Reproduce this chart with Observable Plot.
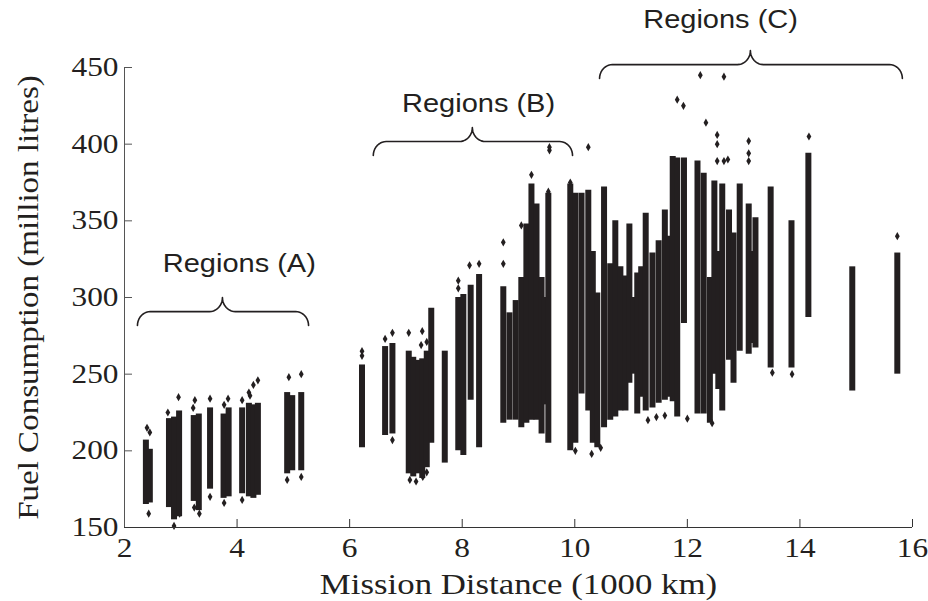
<!DOCTYPE html>
<html>
<head>
<meta charset="utf-8">
<script src="https://cdn.jsdelivr.net/npm/d3@7"></script>
<script src="https://cdn.jsdelivr.net/npm/@observablehq/plot@0.6"></script>
<style>
  html, body { margin: 0; padding: 0; background: #fff; }
</style>
</head>
<body>
<div id="chart"></div>
<script>
// Axis ticks
const xTicks = [2, 4, 6, 8, 10, 12, 14, 16];
const yTicks = [150, 200, 250, 300, 350, 400, 450];
const xTitle = "Mission Distance (1000 km)";
const yTitle = "Fuel Consumption (million litres)";

// Dense vertical bands of points: mission distance, lowest and highest fuel value
const bandX = [2.38, 2.45, 2.79, 2.88, 2.97, 3.23, 3.32, 3.52, 3.76, 3.85, 4.09, 4.21, 4.29, 4.37, 4.89, 4.98, 5.14,
  6.22, 6.63, 6.76, 7.05, 7.13, 7.22, 7.29, 7.37, 7.45, 7.69, 7.93, 8.02, 8.15, 8.30,
  8.73, 8.84, 8.95, 9.05, 9.14, 9.23, 9.32, 9.41, 9.47, 9.53,
  9.92, 10.01, 10.12, 10.24, 10.32, 10.40, 10.52, 10.63, 10.72, 10.81, 10.90, 10.97, 11.04, 11.11, 11.18, 11.26, 11.38, 11.49, 11.60, 11.67,
  11.74, 11.82, 11.94, 12.18, 12.29, 12.40, 12.48, 12.55, 12.62, 12.74, 12.82, 12.93, 13.09, 13.15, 13.21, 13.48, 13.85, 14.15, 14.93, 15.73];
const bandLow = [165, 166, 163, 155, 157, 167, 161, 175, 169, 170, 172, 170, 169, 171, 185, 187, 187,
  202, 210, 211, 185, 183, 185, 182, 189, 205, 192, 200, 197, 233, 202,
  218, 220, 220, 215, 218, 220, 220, 211, 230, 205,
  200, 205, 237, 226, 205, 202, 215, 220, 222, 226, 226, 244, 250, 224, 235, 226, 228, 231, 233, 235,
  232, 222, 283, 224, 224, 218, 250, 240, 226, 259, 244, 265, 263, 270, 267, 254, 254, 287, 239, 250];
const bandHigh = [207, 201, 221, 222, 226, 223, 224, 228, 224, 228, 228, 231, 230, 231, 238, 236, 238,
  256, 268, 270, 265, 261, 259, 260, 265, 293, 265, 300, 302, 308, 315,
  307, 290, 298, 313, 348, 374, 361, 313, 300, 368,
  374, 368, 368, 370, 330, 303, 372, 322, 350, 320, 314, 348, 300, 316, 320, 355, 329, 337, 357, 340,
  392, 391, 391, 389, 381, 313, 376, 330, 374, 357, 342, 374, 361, 330, 352, 372, 350, 394, 320, 329];

// Isolated points outside the dense bands
const outX = [2.40, 2.45, 2.43, 2.96, 2.77, 2.88, 2.98, 3.25, 3.22, 3.33, 3.24, 3.52, 3.52, 3.84, 3.77, 3.77, 4.09, 4.09,
  4.21, 4.29, 4.37, 4.23, 4.92, 4.89, 5.14, 5.14,
  6.22, 6.22, 6.63, 6.76, 6.76, 7.05, 7.29, 7.27, 7.37, 7.07, 7.18, 7.30, 7.37, 7.93, 7.93, 8.13, 8.30, 8.73, 8.73,
  9.05, 9.23, 9.55, 9.55, 9.53, 9.92, 10.01,
  10.24, 11.82, 11.93, 12.33, 12.53, 12.53, 12.53, 12.65, 12.72, 13.09, 13.09, 13.09, 12.23, 12.65, 14.16, 15.73,
  13.86, 13.51, 12.44, 12.00, 10.46, 10.30, 11.30, 11.45, 11.60];
const outY = [215, 212, 159, 235, 225, 151, 159, 233, 228, 159, 163, 234, 170, 234, 230, 166, 233, 168,
  238, 243, 246, 236, 248, 181, 250, 183,
  265, 262, 273, 277, 207, 277, 278, 269, 271, 181, 180, 183, 186, 311, 306, 321, 322, 336, 322,
  347, 380, 396, 398, 369, 375, 200,
  398, 429, 425, 414, 406, 400, 389, 389, 390, 402, 394, 389, 445, 444, 405, 340,
  250, 251, 218, 221, 202, 198, 220, 222, 223];

// Region annotations (braces)
const regionLabels = ["Regions (A)", "Regions (B)", "Regions (C)"];
const regionStart = [2.23, 6.42, 10.44];
const regionEnd = [5.27, 9.96, 15.82];
const regionTip = [3.74, 8.18, 13.12];
const regionBase = [281.7, 392.6, 442.8];
const labelX = [4.04, 8.29, 12.59];
const labelY = [322, 426.5, 480.7];

const ink = "#231f20";

const bands = bandX.map((x, i) => ({x, lo: bandLow[i], hi: bandHigh[i]}));
const outliers = outX.map((x, i) => ({x, y: outY[i]}));

// brace geometry (quarter arcs) built from the region arrays
const RX = 0.23, RY = 9.1, N = 10;
const bracePts = [];
regionLabels.forEach((lab, i) => {
  const x0 = regionStart[i], x1 = regionEnd[i], xt = regionTip[i], yb = regionBase[i];
  for (let k = 0; k <= N; k++) { const t = k / N * Math.PI / 2; bracePts.push({z: i, x: x0 + RX - RX * Math.cos(t), y: yb + RY * Math.sin(t)}); }
  for (let k = 0; k <= N; k++) { const t = k / N * Math.PI / 2; bracePts.push({z: i, x: xt - RX + RX * Math.sin(t), y: yb + 2 * RY - RY * Math.cos(t)}); }
  for (let k = 0; k <= N; k++) { const t = k / N * Math.PI / 2; bracePts.push({z: i, x: xt + RX - RX * Math.cos(t), y: yb + 2 * RY - RY * Math.sin(t)}); }
  for (let k = 0; k <= N; k++) { const t = k / N * Math.PI / 2; bracePts.push({z: i, x: x1 - RX + RX * Math.sin(t), y: yb + RY * Math.cos(t)}); }
});

const tickLenY = 8 * 300 / 460;   // 8px expressed in y units
const tickLenX = 8 * 14 / 788;    // 8px expressed in x units

const chart = Plot.plot({
  width: 928,
  height: 601,
  marginLeft: 124,
  marginRight: 16,
  marginTop: 67,
  marginBottom: 74,
  x: {domain: [2, 16]},
  y: {domain: [150, 450]},
  style: {fontFamily: "'Liberation Serif', 'Times New Roman', serif", fontSize: "27px", color: ink, background: "#fff", overflow: "visible"},
  marks: [
    Plot.axisX({ticks: xTicks, tickSize: 0, tickPadding: 10, label: null, fontSize: 27}),
    Plot.axisY({ticks: yTicks, tickSize: 0, tickPadding: 6, label: null, fontSize: 27}),
    Plot.ruleX(bands, {x: "x", y1: "lo", y2: "hi", stroke: ink, strokeWidth: 6}),
    Plot.dot(outliers, {x: "x", y: "y", r: 2.5, symbol: "diamond", fill: ink, stroke: null}),
    Plot.ruleX([2], {stroke: "#555", strokeWidth: 1}),
    Plot.ruleY([150], {stroke: "#333", strokeWidth: 1}),
    Plot.ruleX(xTicks.slice(1), {x: d => d, y1: 150, y2: 150 + tickLenY, stroke: "#333", strokeWidth: 1}),
    Plot.ruleY(yTicks.slice(1), {y: d => d, x1: 2, x2: 2 + tickLenX, stroke: "#555", strokeWidth: 1}),
    Plot.line(bracePts, {x: "x", y: "y", z: "z", stroke: ink, strokeWidth: 1.6, curve: "linear"}),
    Plot.text(regionLabels, {x: (d, i) => labelX[i], y: (d, i) => labelY[i], text: d => d, fontFamily: "'Liberation Sans', Arial, sans-serif", fontSize: 25, fill: ink}),
    Plot.text([xTitle], {frameAnchor: "bottom", textAnchor: "middle", lineAnchor: "middle", dy: 57, text: d => d, fontSize: 30, fill: ink}),
    Plot.text([yTitle], {frameAnchor: "left", textAnchor: "middle", lineAnchor: "middle", dx: -96, rotate: -90, text: d => d, fontSize: 30, fill: ink})
  ]
});

document.getElementById("chart").append(chart);

// widen glyphs horizontally like the reference rendering
chart.querySelectorAll("text").forEach(t => {
  const s = t.textContent.startsWith("Fuel") ? 1.1 : 1.16;
  const w = t.getComputedTextLength();
  if (w > 0) {
    t.setAttribute("textLength", (w * s).toFixed(1));
    t.setAttribute("lengthAdjust", "spacingAndGlyphs");
  }
});
</script>
</body>
</html>
